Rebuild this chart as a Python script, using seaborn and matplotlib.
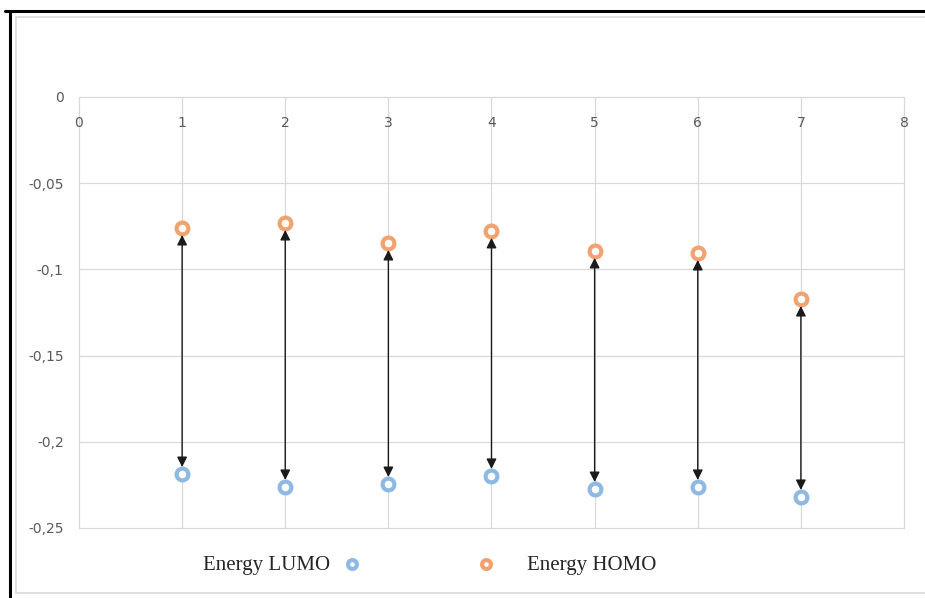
import matplotlib
matplotlib.use("Agg")
import matplotlib.pyplot as plt
from matplotlib.lines import Line2D
from matplotlib.ticker import FuncFormatter
import seaborn as sns

sns.set_style("whitegrid")

# Dados
molecula = [1, 2, 3, 4, 5, 6, 7]
energia_homo = [-0.0760, -0.0731, -0.0847, -0.0777, -0.0893, -0.0905, -0.1172]
energia_lumo = [-0.2187, -0.2262, -0.2245, -0.2198, -0.2274, -0.2262, -0.2320]
xticks = [0, 1, 2, 3, 4, 5, 6, 7, 8]
yticks = [0, -0.05, -0.1, -0.15, -0.2, -0.25]

cor_lumo = "#8DB9E3"
cor_homo = "#F2A26E"
cor_texto = "#595959"
fonte_eixo = ["Liberation Sans Narrow", "DejaVu Sans"]

fig = plt.figure(figsize=(9.25, 5.98), dpi=100)
ax = fig.add_axes([0.0854, 0.1171, 0.8919, 0.7207])

# Setas duplas entre HOMO e LUMO
for x, h, l in zip(molecula, energia_homo, energia_lumo):
    ax.annotate("", xy=(x, l), xytext=(x, h),
                arrowprops=dict(arrowstyle="<|-|>", color="#1a1a1a", lw=1.0,
                                mutation_scale=15, shrinkA=5, shrinkB=5),
                zorder=4)

sns.scatterplot(x=molecula, y=energia_lumo, ax=ax, marker="o", s=72,
                facecolor="white", edgecolor=cor_lumo, linewidth=3.0,
                label="Energy LUMO", zorder=3)
sns.scatterplot(x=molecula, y=energia_homo, ax=ax, marker="o", s=72,
                facecolor="white", edgecolor=cor_homo, linewidth=3.0,
                label="Energy HOMO", zorder=3)

ax.set_xlim(0, 8)
ax.set_ylim(-0.25, 0)
ax.set_xticks(xticks)
ax.set_yticks(yticks)
ax.yaxis.set_major_formatter(FuncFormatter(lambda v, p: ("%g" % v).replace(".", ",") if v != 0 else "0"))
ax.grid(True, color="#D9D9D9", linewidth=0.9)
for s in ax.spines.values():
    s.set_visible(False)

# Eixo x no topo (estilo Excel: eixo cruza em y = 0)
ax.xaxis.set_ticks_position("top")
ax.tick_params(axis="x", length=0, pad=-13.5, labelsize=10, labelcolor=cor_texto)
ax.tick_params(axis="y", length=0, pad=11, labelsize=10, labelcolor=cor_texto)
for lab in ax.xaxis.get_ticklabels():
    lab.set_va("top")
    lab.set_family(fonte_eixo)
for lab in ax.yaxis.get_ticklabels():
    lab.set_family(fonte_eixo)
for gl in ax.get_xgridlines() + ax.get_ygridlines():
    gl.set_clip_on(False)
ax.set_xlabel("")
ax.set_ylabel("")

# Legendas separadas (texto/marcador invertidos como no original)
handles, labels = ax.get_legend_handles_labels()
if ax.get_legend():
    ax.get_legend().remove()
fonte_leg = {"family": "Liberation Serif", "size": 15}
leg1 = ax.legend([handles[0]], [labels[0]], loc="center", bbox_to_anchor=(0.306, 0.055),
                 bbox_transform=fig.transFigure, frameon=False, markerfirst=False,
                 markerscale=0.75, handlelength=1.0, handletextpad=0.55, prop=fonte_leg)
ax.add_artist(leg1)
ax.legend([handles[1]], [labels[1]], loc="center", bbox_to_anchor=(0.612, 0.055),
          bbox_transform=fig.transFigure, frameon=False, markerfirst=True,
          markerscale=0.75, handlelength=1.0, handletextpad=1.45, prop=fonte_leg)

# Moldura da imagem
fig.add_artist(Line2D([16 / 925, 1.0], [1 - 17 / 598, 1 - 17 / 598], color="#D9D9D9", lw=1.2))
fig.add_artist(Line2D([16 / 925, 16 / 925], [1 - 17 / 598, 1 - 593 / 598], color="#D9D9D9", lw=1.2))
fig.add_artist(Line2D([16 / 925, 1.0], [1 - 593 / 598, 1 - 593 / 598], color="#D9D9D9", lw=1.2))
fig.add_artist(Line2D([5 / 925, 1.0], [1 - 11 / 598, 1 - 11 / 598], color="black", lw=2.2))
fig.add_artist(Line2D([10 / 925, 10 / 925], [1 - 11 / 598, 0.0], color="black", lw=2.2))

fig.savefig("out.png", dpi=100)
